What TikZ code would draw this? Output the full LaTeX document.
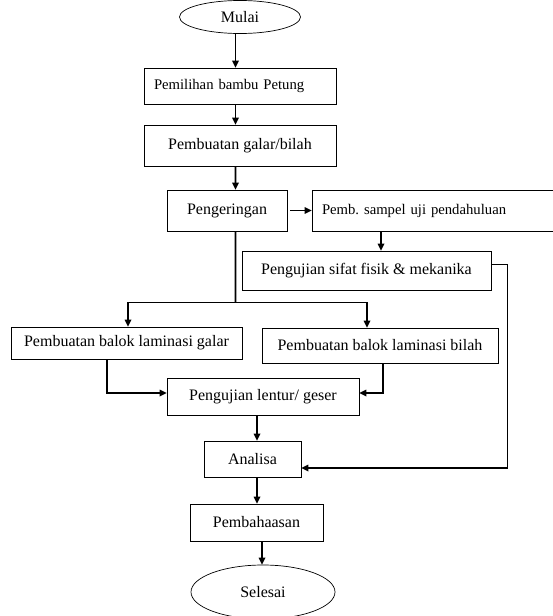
\documentclass[tikz,border=0pt]{standalone}
\usepackage{fontspec}
\setmainfont{Liberation Serif}
\usepackage{tikz}
\usetikzlibrary{positioning,shapes.geometric,arrows.meta,calc}
\tikzset{
  proses/.style={draw=black,line width=0.7pt,inner sep=0pt,align=center,font=\fontsize{16bp}{19bp}\selectfont,fill=white},
  kiri/.style={proses,inner xsep=10bp,align=left,font=\fontsize{14.7bp}{17bp}\selectfont},
  terminal/.style={ellipse,draw=black,line width=0.7pt,inner sep=0pt,font=\fontsize{16bp}{19bp}\selectfont,fill=white},
  flow/.style={-{Triangle[length=7bp,width=6.5bp]},line width=1.6pt,draw=black},
  link/.style={line width=1.6pt,draw=black}
}
\begin{document}
\begin{tikzpicture}[x=1bp,y=-1bp]
\useasboundingbox (0,0) rectangle (553,616);
% Alur utama
\node[terminal,minimum width=121bp,minimum height=33bp] (mulai) at (240,17) {Mulai};
\node[kiri,text width=172bp,minimum height=36bp] (pilih) at (240,86) {Pemilihan bambu Petung};
\node[proses,minimum width=192bp,minimum height=41bp] (galar) at (240,145.5) {Pembuatan galar/bilah};
\node[proses,minimum width=120bp,minimum height=41bp] (kering) at (227,210.5) {Pengeringan};
\node[kiri,text width=228bp,minimum height=41bp] (sampel) at (436,210.5) {Pemb.\ sampel uji pendahuluan};
\node[proses,minimum width=249bp,minimum height=39bp] (sifat) at (366.5,270.5) {Pengujian sifat fisik \& mekanika};
\node[proses,minimum width=231bp,minimum height=32bp] (lamgalar) at (126.5,343) {Pembuatan balok laminasi galar};
\node[proses,minimum width=236bp,minimum height=35bp] (lambilah) at (380,345.5) {Pembuatan balok laminasi bilah};
\node[proses,minimum width=192bp,minimum height=37bp] (lentur) at (263,396.5) {Pengujian lentur/ geser};
\node[proses,minimum width=97bp,minimum height=36bp] (analisa) at (252.5,459) {Analisa};
\node[proses,minimum width=133bp,minimum height=37bp] (bahas) at (256.5,522.5) {Pembahaasan};
\node[terminal,minimum width=144bp,minimum height=54bp] (selesai) at (263,592) {Selesai};
\coordinate (cabang) at ($(kering.south)+(8.5,71)$);

\draw[flow] ([xshift=-4.5bp]mulai.south) -- ([xshift=-4.5bp]pilih.north);
\draw[flow] ([xshift=-4.5bp]pilih.south) -- ([xshift=-4.5bp]galar.north);
\draw[flow] ([xshift=-4.5bp]galar.south) -- ([xshift=8.5bp]kering.north);
\draw[flow] ([xshift=3bp]kering.east) -- (sampel.west);
\draw[flow] ([xshift=-55bp]sampel.south) -- ([xshift=14.5bp]sifat.north);
\draw[link] ([xshift=8.5bp]kering.south) -- (cabang);
\draw[flow] (cabang) -| ([xshift=1.5bp]lamgalar.north);
\draw[flow] (cabang) -| ([xshift=-13bp]lambilah.north);
\draw[flow] ([xshift=-19.5bp]lamgalar.south) |- ([yshift=3.5bp]lentur.west);
\draw[flow] ([xshift=3bp]lambilah.south) |- ([yshift=3.5bp]lentur.east);
\draw[flow] ([yshift=6bp]sifat.east) -- ++(16,0) |- ([yshift=-9bp]analisa.east);
\draw[flow] ([xshift=-6bp]lentur.south) -- ([xshift=4.5bp]analisa.north);
\draw[flow] ([xshift=4.5bp]analisa.south) -- ([xshift=0.5bp]bahas.north);
\draw[flow] ([xshift=5.5bp]bahas.south) -- ([xshift=-1bp]selesai.north);
\end{tikzpicture}
\end{document}
